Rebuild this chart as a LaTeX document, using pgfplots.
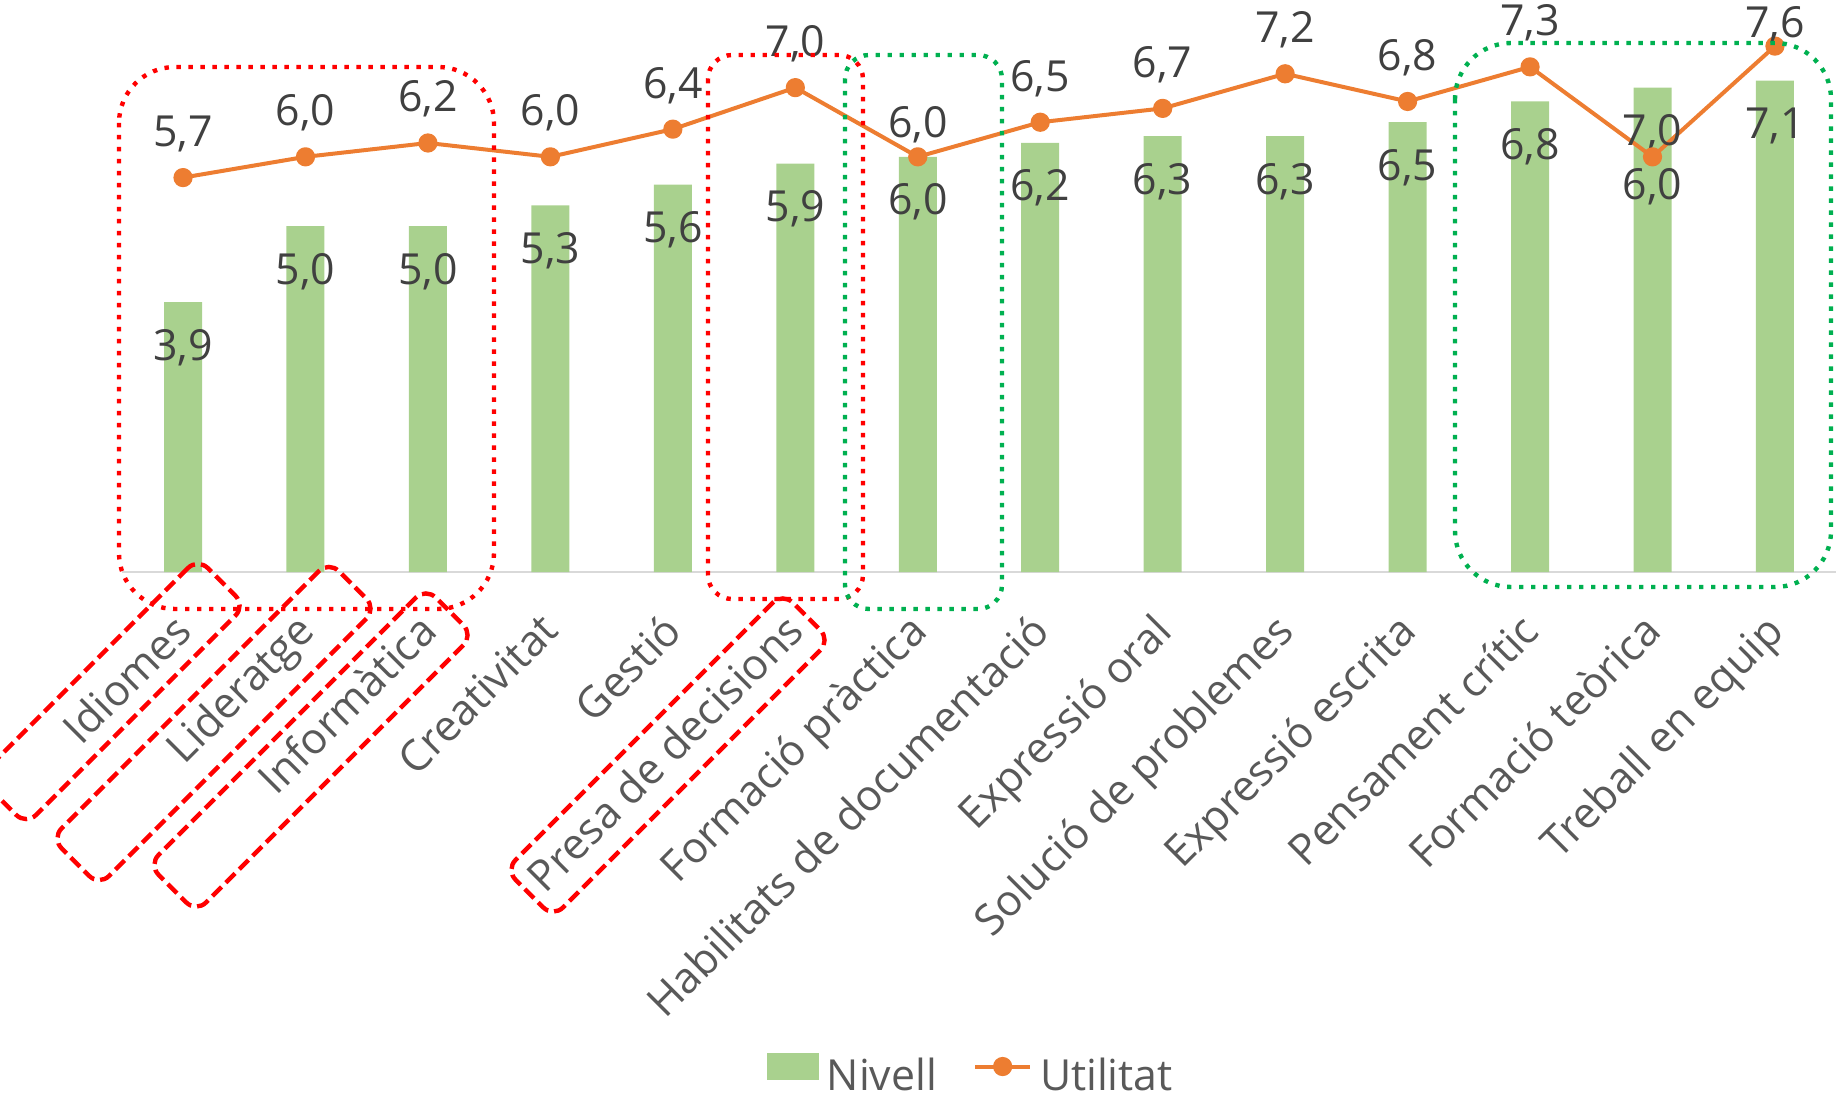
\documentclass[border=0pt]{standalone}
\usepackage{fontspec}
\setmainfont{Open Sans}
\usepackage{pgfplots}
\pgfplotsset{compat=1.18}
\usepackage{pgfplotstable}

\definecolor{nivellc}{HTML}{A9D18E}
\definecolor{utilc}{HTML}{ED7D31}
\definecolor{labelc}{HTML}{404040}
\definecolor{tickc}{HTML}{595959}
\definecolor{axisc}{HTML}{D9D9D9}
\definecolor{boxred}{HTML}{FF0000}
\definecolor{boxgreen}{HTML}{00B050}

\newcommand\cfont{\fontsize{10.7pt}{13pt}\selectfont}

% Nivell (bars)
\pgfplotstableread{
x y
0 3.9
1 5.0
2 5.0
3 5.3
4 5.6
5 5.9
6 6.0
7 6.2
8 6.3
9 6.3
10 6.5
11 6.8
12 7.0
13 7.1
}\nivelltab

% Utilitat (line), dy = label offset
\pgfplotstableread{
x y dy
0 5.7 7.75
1 6.0 7.75
2 6.2 7.75
3 6.0 7.75
4 6.4 7.75
5 7.0 7.75
6 6.0 4.75
7 6.5 7.75
8 6.7 7.75
9 7.2 7.75
10 6.8 7.75
11 7.3 7.75
12 6.0 -10.75
13 7.6 2.25
}\utiltab

\tikzset{
  dotbox/.style={line width=1.1pt, line cap=butt, dash pattern=on 1.1pt off 1.9pt},
  dashbox/.style={draw=boxred, line width=1.1pt, dash pattern=on 3.25pt off 1.5pt,
    rotate=45, inner sep=0pt, rounded corners=3.5pt, minimum height=16.8pt},
  utilline/.style={utilc, line width=1pt, line join=round,
    mark=*, mark size=1.9pt, mark options={fill=utilc, draw=utilc}},
}

\begin{document}
\begin{tikzpicture}
\path[use as bounding box] (0,0) rectangle (460.75pt,273.75pt);
\begin{axis}[
  at={(30.45pt,130.75pt)}, anchor=south west,
  scale only axis, width=428.6pt, height=138.4pt,
  xmin=-0.5, xmax=13.5, ymin=0, ymax=8,
  axis x line*=bottom, axis y line=none,
  x axis line style={draw=axisc, line width=0.5pt, -},
  xtick={0,...,13},
  xticklabels={Idiomes, Lideratge, Informàtica, Creativitat, Gestió,
    Presa de decisions, Formació pràctica, Habilitats de documentació,
    Expressió oral, Solució de problemes, Expressió escrita,
    Pensament crític, Formació teòrica, Treball en equip},
  major tick length=0pt,
  xticklabel shift=8pt,
  xticklabel style={xshift=-3pt, rotate=45, anchor=north east, font=\cfont, text=tickc, inner sep=1pt},
  ytick=\empty,
  clip=false,
  /pgf/number format/use comma,
  /pgf/number format/fixed,
  /pgf/number format/fixed zerofill,
  /pgf/number format/precision=1,
  /pgf/number format/assume math mode=true,
  legend columns=2,
  legend style={draw=none, fill=none, at={(0.3758,-0.9628)}, anchor=south west,
    inner sep=0pt, font=\cfont, text=tickc,
    /tikz/every even column/.append style={column sep=7pt}},
]
\addplot[ybar, bar width=9.5pt, fill=nivellc, draw=none,
  nodes near coords,
  nodes near coords style={font=\cfont, text=labelc, anchor=base, yshift=-14.5pt},
  legend image code/.code={\fill[nivellc] (0pt,-0.8pt) rectangle (13pt,5.95pt);}]
  table[x=x, y=y] {\nivelltab};
\addlegendentry{Nivell}

\addplot[sharp plot, utilline,
  nodes near coords,
  visualization depends on={\thisrow{dy} \as \dy},
  nodes near coords style={font=\cfont, text=labelc, anchor=base, yshift=\dy*1pt},
  legend image code/.code={\draw[utilline, mark repeat=2, mark phase=2]
    plot coordinates {(0pt,2.6pt) (6.9pt,2.6pt) (13.75pt,2.6pt)};}]
  table[x=x, y=y] {\utiltab};
\addlegendentry{Utilitat}
\end{axis}

% highlight boxes, in pixel coordinates of the 1843x1095 picture
\begin{scope}[x=0.25pt, y=-0.25pt, shift={(0pt,273.75pt)}]
  \draw[boxred, dotbox, rounded corners=14pt] (119,67) rectangle (494,609);
  \draw[boxred, dotbox, rounded corners=6pt] (708,55) rectangle (863,599);
  \draw[boxgreen, dotbox, rounded corners=6pt] (845,55) rectangle (1002,609);
  \draw[boxgreen, dotbox, rounded corners=14pt] (1455,43) rectangle (1831,587);
  \node[dashbox, minimum width=77.5pt] at (112,691.5) {};
  \node[dashbox, minimum width=98pt] at (214,723.5) {};
  \node[dashbox, minimum width=98pt] at (311,750) {};
  \node[dashbox, minimum width=98pt] at (668,755) {};
\end{scope}
\end{tikzpicture}
\end{document}
